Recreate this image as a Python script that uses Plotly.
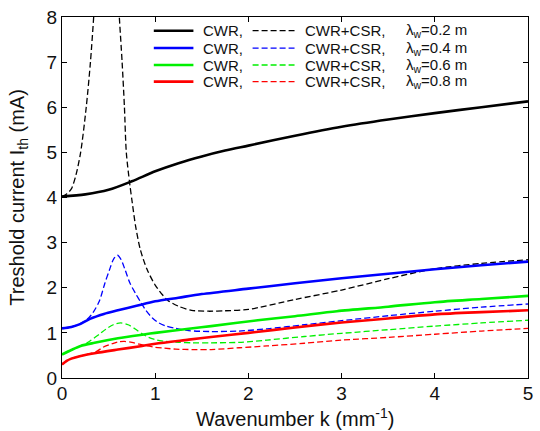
import plotly.graph_objects as go

# Wavenumber k (mm^-1) and threshold current I_th (mA)
# CWR only (solid) and CWR+CSR (dashed) for four wake lengths lambda_w

k_cwr_02 = [0, 0.25, 0.5, 0.75, 1.0, 1.25, 1.5, 1.75, 2.0, 2.5, 3.0, 3.5, 4.0, 4.5, 5.0]
i_cwr_02 = [4.02, 4.07, 4.17, 4.36, 4.58, 4.76, 4.91, 5.04, 5.15, 5.37, 5.57, 5.73, 5.87, 6.0, 6.13]

k_csr_02 = [0, 0.05, 0.1, 0.15, 0.2, 0.26, 0.305, 0.34, 0.4, 0.48, 0.56, 0.615, 0.645, 0.67,
            0.69, 0.727, 0.755, 0.79, 0.84, 0.91, 1.0, 1.13, 1.25, 1.39, 1.57, 1.75, 2.0,
            2.5, 3.0, 3.5, 4.0, 4.5, 5.0]
i_csr_02 = [4.02, 4.08, 4.19, 4.5, 5.0, 6.0, 7.0, 8.0, 10.0, 12.0, 10.0, 8.0, 7.0, 6.0,
            5.0, 4.30, 3.87, 3.36, 2.85, 2.42, 2.06, 1.73, 1.59, 1.50, 1.48, 1.49, 1.52,
            1.74, 1.95, 2.2, 2.42, 2.54, 2.62]

k_cwr_04 = [0, 0.1, 0.2, 0.3, 0.45, 0.6, 0.8, 1.0, 1.25, 1.5, 2.0, 2.5, 3.0, 3.5, 4.0, 4.5, 5.0]
i_cwr_04 = [1.10, 1.13, 1.20, 1.31, 1.42, 1.50, 1.60, 1.70, 1.78, 1.86, 1.98, 2.10, 2.21,
            2.31, 2.41, 2.50, 2.58]

k_csr_04 = [0, 0.1, 0.2, 0.27, 0.33, 0.4, 0.46, 0.51, 0.555, 0.595, 0.635, 0.68, 0.73, 0.79,
            0.85, 0.9, 0.97, 1.04, 1.12, 1.22, 1.36, 1.6, 1.9, 2.2, 2.6, 3.0, 3.5, 4.0, 4.5, 5.0]
i_csr_04 = [1.10, 1.13, 1.21, 1.30, 1.44, 1.70, 2.10, 2.40, 2.64, 2.72, 2.62, 2.38, 2.10,
            1.87, 1.66, 1.50, 1.33, 1.22, 1.15, 1.10, 1.05, 1.03, 1.04, 1.09, 1.18, 1.27,
            1.38, 1.48, 1.57, 1.64]

k_cwr_06 = [0, 0.1, 0.2, 0.35, 0.6, 0.86, 1.0, 1.36, 1.6, 2.1, 2.5, 2.95, 3.5, 4.0, 4.5, 5.0]
i_cwr_06 = [0.52, 0.62, 0.71, 0.78, 0.88, 0.96, 1.0, 1.09, 1.15, 1.28, 1.37, 1.48, 1.58,
            1.68, 1.75, 1.82]

k_csr_06 = [0, 0.1, 0.2, 0.3, 0.4, 0.47, 0.55, 0.63, 0.71, 0.79, 0.86, 0.93, 1.02, 1.11,
            1.25, 1.4, 1.6, 1.9, 2.2, 2.6, 3.0, 3.5, 4.0, 4.5, 5.0]
i_csr_06 = [0.52, 0.62, 0.71, 0.82, 0.97, 1.08, 1.18, 1.22, 1.18, 1.08, 0.98, 0.90, 0.84,
            0.81, 0.79, 0.78, 0.78, 0.79, 0.84, 0.92, 0.99, 1.07, 1.15, 1.22, 1.28]

k_cwr_08 = [0, 0.05, 0.1, 0.2, 0.35, 0.6, 0.86, 1.0, 1.36, 1.6, 2.0, 2.5, 3.0, 3.5, 4.0, 4.5, 5.0]
i_cwr_08 = [0.30, 0.38, 0.43, 0.49, 0.55, 0.63, 0.71, 0.76, 0.85, 0.91, 1.0, 1.12, 1.23,
            1.32, 1.41, 1.46, 1.50]

k_csr_08 = [0, 0.1, 0.2, 0.3, 0.38, 0.44, 0.54, 0.6, 0.67, 0.75, 0.83, 0.92, 1.0, 1.1, 1.22,
            1.4, 1.6, 1.9, 2.2, 2.6, 3.0, 3.5, 4.0, 4.5, 5.0]
i_csr_08 = [0.30, 0.43, 0.49, 0.54, 0.60, 0.68, 0.76, 0.80, 0.81, 0.79, 0.75, 0.71, 0.68,
            0.66, 0.64, 0.63, 0.63, 0.67, 0.71, 0.77, 0.84, 0.90, 0.97, 1.04, 1.10]

wake_labels = ["0.2", "0.4", "0.6", "0.8"]
colors = ["#000000", "#0000ff", "#00f000", "#ff0000"]
x_ticks = [0, 1, 2, 3, 4, 5]
y_ticks = [0, 1, 2, 3, 4, 5, 6, 7, 8]

solid_sets = [(k_cwr_02, i_cwr_02), (k_cwr_04, i_cwr_04), (k_cwr_06, i_cwr_06), (k_cwr_08, i_cwr_08)]
dashed_sets = [(k_csr_02, i_csr_02), (k_csr_04, i_csr_04), (k_csr_06, i_csr_06), (k_csr_08, i_csr_08)]

FONT = "Arial, Liberation Sans, sans-serif"
TEXT = "#111111"

fig = go.Figure()

# dashed (CWR+CSR) drawn first so the solid CWR curves sit on top
for (kx, iy), c in zip(dashed_sets, colors):
    fig.add_trace(go.Scatter(x=kx, y=iy, mode="lines", showlegend=False,
                             line=dict(color=c, width=1.3, dash="6px,3px",
                                       shape="spline", smoothing=0.8)))
for (kx, iy), c in zip(solid_sets, colors):
    fig.add_trace(go.Scatter(x=kx, y=iy, mode="lines", showlegend=False,
                             line=dict(color=c, width=2.6, shape="spline", smoothing=0.8)))

# hand-built legend: solid sample, "CWR,", dashed sample, "CWR+CSR,", lambda label
row_y = [0.962, 0.914, 0.867, 0.821]
shapes = []
annotations = []
for y, c, lab in zip(row_y, colors, wake_labels):
    shapes.append(dict(type="line", xref="paper", yref="paper", x0=0.197, x1=0.282,
                       y0=y, y1=y, line=dict(color=c, width=2.6)))
    shapes.append(dict(type="line", xref="paper", yref="paper", x0=0.409, x1=0.499,
                       y0=y, y1=y, line=dict(color=c, width=1.3, dash="6px,3px")))
    for xpos, txt in ((0.299, "CWR,"), (0.518, "CWR+CSR,"),
                      (0.733, "λ<sub>w</sub>=" + lab + " m")):
        annotations.append(dict(xref="paper", yref="paper", x=xpos, y=y, text=txt,
                                showarrow=False, xanchor="left", yanchor="middle",
                                font=dict(family=FONT, size=15, color=TEXT)))

# axis titles placed as annotations for exact positioning
annotations.append(dict(xref="paper", yref="paper", x=0.5, y=-0.109,
                        text="Wavenumber k (mm<sup>-1</sup>)", showarrow=False,
                        xanchor="center", yanchor="middle",
                        font=dict(family=FONT, size=20, color=TEXT)))
annotations.append(dict(xref="paper", yref="paper", x=-0.094, y=0.5, textangle=-90,
                        text="Treshold current I<sub>th</sub> (mA)", showarrow=False,
                        xanchor="center", yanchor="middle",
                        font=dict(family=FONT, size=20, color=TEXT)))

axis_common = dict(showline=True, linecolor="black", linewidth=1.2, mirror="ticks",
                   ticks="inside", ticklen=5, tickwidth=1, tickcolor="black",
                   showgrid=False, zeroline=False, ticklabeloverflow="allow",
                   tickfont=dict(family=FONT, size=19, color=TEXT))

fig.update_layout(
    width=540, height=431,
    margin=dict(l=62, r=7, t=10, b=53),
    paper_bgcolor="white", plot_bgcolor="white",
    shapes=shapes, annotations=annotations,
    xaxis=dict(range=[0, 5.0001], tickvals=x_ticks, ticklabelstandoff=-2, **axis_common),
    yaxis=dict(range=[0, 8.0001], tickvals=y_ticks, **axis_common),
)

fig.write_html("out.html")
